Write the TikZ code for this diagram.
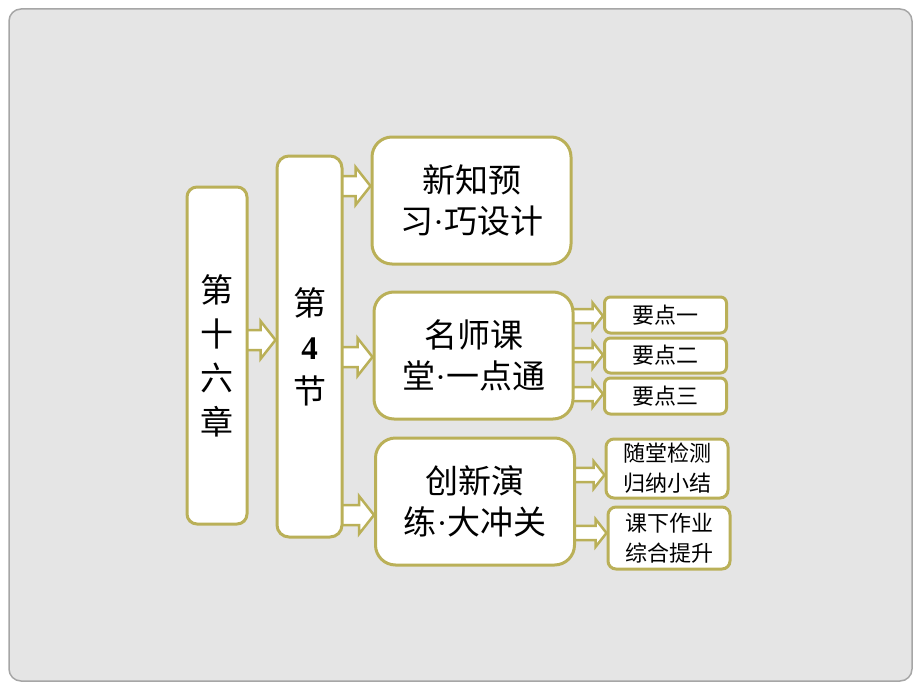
\documentclass[tikz,border=0pt]{standalone}
\usepackage{fontspec}
\setmainfont{Liberation Serif}
\newfontfamily\cjk{Noto Sans CJK SC}
\usetikzlibrary{backgrounds}
\usetikzlibrary{calc}
\usetikzlibrary{positioning}

\definecolor{boxline}{RGB}{186,176,88}
\definecolor{slidegray}{RGB}{229,229,229}
\definecolor{slideedge}{RGB}{166,166,166}

\tikzset{
    box/.style={draw=boxline, line width=3pt, fill=white, rounded corners=#1,
        inner sep=0pt, align=center},
    box/.default=10pt,
    barrow/.style={draw=boxline, line width=2.5pt, fill=white, line join=miter},
}

% block arrow from node #2 to node #3 at height #4, scaled by #1
\newcommand{\flowarrow}[4][1]{%
    \path (#2.east |- 0,#4) coordinate (s) (#3.west |- 0,#4) coordinate (t);
    \filldraw[barrow] ($(s)+(-2,-10*#1)$) -- ($(t)+(-15*#1,-10*#1)$) -- ($(t)+(-15*#1,-19*#1)$)
        -- (t) -- ($(t)+(-15*#1,19*#1)$) -- ($(t)+(-15*#1,10*#1)$) -- ($(s)+(-2,10*#1)$);
}

\begin{document}
\begin{tikzpicture}[x=1pt, y=-1pt]
    \useasboundingbox (0,0) rectangle (920,690);
    \begin{scope}[on background layer]
        \fill[white] (0,0) rectangle (920,690);
        \draw[fill=slidegray, draw=slideedge, line width=1.5pt, rounded corners=12pt] (9,9) rectangle (912,681);
    \end{scope}

    \node[box=10pt, minimum width=60pt, minimum height=337pt, font=\cjk\fontsize{33}{44}\selectfont]
        (ch) at (217,355.5) {第\\十\\六\\章};
    \node[box=12pt, minimum width=65pt, minimum height=381pt, font=\cjk\fontsize{33}{44}\selectfont,
        right=27pt of ch, yshift=9pt] (sec) {第\\{\rmfamily\bfseries 4}\\节};

    \node[box=20pt, minimum width=199pt, minimum height=127pt, font=\cjk\fontsize{33}{41}\selectfont]
        (c1) at (471.5,200.5) {新知预\\习{\rmfamily ·}巧设计};
    \node[box=20pt, minimum width=199pt, minimum height=127pt, font=\cjk\fontsize{33}{41}\selectfont,
        below=25pt of c1, xshift=2pt] (c2) {名师课\\堂{\rmfamily ·}一点通};
    \node[box=20pt, minimum width=199pt, minimum height=127pt, font=\cjk\fontsize{33}{41}\selectfont,
        below=16pt of c2, xshift=1.5pt] (c3) {创新演\\练{\rmfamily ·}大冲关};

    \node[box=6pt, minimum width=122pt, minimum height=36pt, font=\cjk\fontsize{22}{26}\selectfont]
        (d1) at (665.5,315) {要点一};
    \node[box=6pt, minimum width=122pt, minimum height=35pt, font=\cjk\fontsize{22}{26}\selectfont,
        below=2pt of d1] (d2) {要点二};
    \node[box=6pt, minimum width=122pt, minimum height=36pt, font=\cjk\fontsize{22}{26}\selectfont,
        below=2pt of d2] (d3) {要点三};

    \node[box=8pt, minimum width=122pt, minimum height=59pt, font=\cjk\fontsize{22}{30}\selectfont]
        (e1) at (667,468.5) {随堂检测\\归纳小结};
    \node[box=8pt, minimum width=122pt, minimum height=62pt, font=\cjk\fontsize{22}{30}\selectfont,
        below=6pt of e1, xshift=2pt] (e2) {课下作业\\综合提升};

    \begin{scope}[on background layer]
        \flowarrow{ch}{sec}{340}
        \flowarrow{sec}{c1}{186}
        \flowarrow{sec}{c2}{357}
        \flowarrow{sec}{c3}{515}
        \flowarrow[0.7]{c2}{d1}{316}
        \flowarrow[0.7]{c2}{d2}{355}
        \flowarrow[0.7]{c2}{d3}{394}
        \flowarrow[0.72]{c3}{e1}{475}
        \flowarrow[0.72]{c3}{e2}{533}
    \end{scope}
\end{tikzpicture}
\end{document}
